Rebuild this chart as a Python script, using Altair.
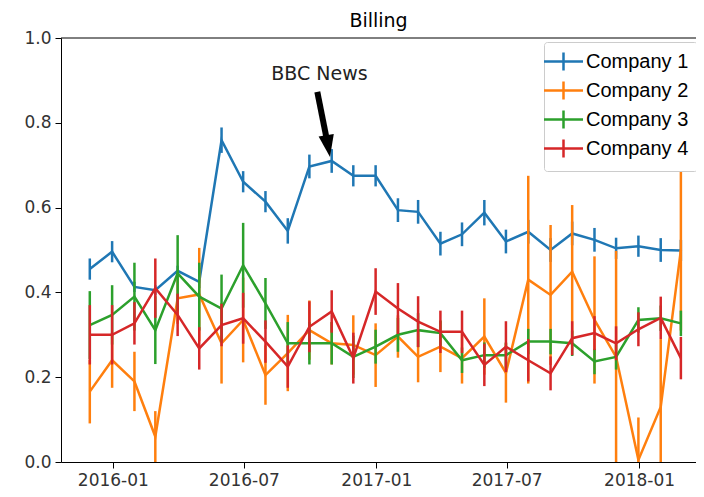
import altair as alt
import pandas as pd

dates = ["2015-11-30", "2015-12-31", "2016-01-31", "2016-02-29", "2016-03-31", "2016-04-30",
         "2016-05-31", "2016-06-30", "2016-07-31", "2016-08-31", "2016-09-30", "2016-10-31",
         "2016-11-30", "2016-12-31", "2017-01-31", "2017-02-28", "2017-03-31", "2017-04-30",
         "2017-05-31", "2017-06-30", "2017-07-31", "2017-08-31", "2017-09-30", "2017-10-31",
         "2017-11-30", "2017-12-31", "2018-01-31", "2018-02-28"]
companies = ["Company 1", "Company 2", "Company 3", "Company 4"]
colors = ["#1f77b4", "#ff7f0e", "#2ca02c", "#d62728"]

c1 = [0.455, 0.496, 0.413, 0.405, 0.451, 0.425, 0.759, 0.661, 0.614, 0.545, 0.697, 0.71,
      0.675, 0.675, 0.594, 0.59, 0.515, 0.537, 0.588, 0.52, 0.543, 0.5, 0.539, 0.524,
      0.504, 0.509, 0.5, 0.499]
c1_err = [0.025, 0.025, 0.012, 0.012, 0.012, 0.015, 0.03, 0.025, 0.025, 0.03, 0.028, 0.028,
          0.025, 0.025, 0.028, 0.028, 0.028, 0.028, 0.03, 0.028, 0.028, 0.028, 0.028, 0.028,
          0.025, 0.025, 0.028, 0.025]

c2 = [0.166, 0.24, 0.19, 0.06, 0.386, 0.395, 0.28, 0.335, 0.205, 0.257, 0.311, 0.28,
      0.276, 0.252, 0.296, 0.248, 0.272, 0.245, 0.296, 0.21, 0.43, 0.394, 0.449, 0.335,
      0.248, 0.005, 0.13, 0.5]
c2_err = [0.075, 0.065, 0.07, 0.06, 0.06, 0.11, 0.095, 0.1, 0.07, 0.09, 0.07, 0.05,
          0.07, 0.075, 0.05, 0.06, 0.06, 0.06, 0.09, 0.07, 0.245, 0.165, 0.157, 0.15,
          0.25, 0.1, 0.16, 0.19]

c3 = [0.323, 0.347, 0.39, 0.311, 0.445, 0.39, 0.362, 0.464, 0.374, 0.28, 0.28, 0.28,
      0.248, 0.272, 0.3, 0.311, 0.304, 0.24, 0.252, 0.252, 0.284, 0.284, 0.28, 0.237,
      0.248, 0.335, 0.339, 0.327]
c3_err = [0.08, 0.07, 0.08, 0.08, 0.09, 0.08, 0.08, 0.1, 0.06, 0.05, 0.05, 0.05,
          0.05, 0.04, 0.04, 0.04, 0.03, 0.03, 0.03, 0.03, 0.03, 0.03, 0.03, 0.03,
          0.03, 0.03, 0.03, 0.03]

c4 = [0.3, 0.3, 0.327, 0.41, 0.347, 0.268, 0.323, 0.339, 0.284, 0.225, 0.319, 0.355,
      0.245, 0.402, 0.362, 0.331, 0.307, 0.307, 0.229, 0.272, 0.24, 0.209, 0.292, 0.304,
      0.28, 0.313, 0.34, 0.245]
c4_err = [0.07, 0.07, 0.05, 0.07, 0.05, 0.05, 0.05, 0.06, 0.05, 0.05, 0.06, 0.05,
          0.06, 0.055, 0.06, 0.06, 0.05, 0.05, 0.05, 0.06, 0.05, 0.04, 0.04, 0.04,
          0.04, 0.04, 0.05, 0.05]

ann_label = ["BBC News"]
ann_text_date = ["2016-10-14"]
ann_text_value = [0.915]
arrow_start_date = ["2016-10-11"]
arrow_start_value = [0.873]
arrow_end_date = ["2016-10-24"]
arrow_end_value = [0.762]
arrow_head_date = ["2016-10-26"]
arrow_head_value = [0.745]

rows = []
for name, vals, errs in zip(companies, [c1, c2, c3, c4], [c1_err, c2_err, c3_err, c4_err]):
    for d, v, e in zip(dates, vals, errs):
        rows.append({"date": d + "T00:00:00", "company": name, "value": v,
                     "low": v - e, "high": v + e})
df = pd.DataFrame(rows)

text_df = pd.DataFrame({"date": [d + "T00:00:00" for d in ann_text_date],
                        "value": ann_text_value, "label": ann_label})
shaft_df = pd.DataFrame({"date": [d + "T00:00:00" for d in arrow_start_date],
                         "value": arrow_start_value,
                         "date2": [d + "T00:00:00" for d in arrow_end_date],
                         "value2": arrow_end_value})
head_df = pd.DataFrame({"date": [d + "T00:00:00" for d in arrow_head_date],
                        "value": arrow_head_value})

PLOT_W = 635
PLOT_H = 424

xscale = alt.Scale(domain=[alt.DateTime(year=2015, month=10, date=21),
                           alt.DateTime(year=2018, month=3, date=21)])
yscale = alt.Scale(domain=[0, 1])

xaxis = alt.Axis(format="%Y-%m", title=None, grid=False,
                 values=[alt.DateTime(year=2016, month=1, date=1),
                         alt.DateTime(year=2016, month=7, date=1),
                         alt.DateTime(year=2017, month=1, date=1),
                         alt.DateTime(year=2017, month=7, date=1),
                         alt.DateTime(year=2018, month=1, date=1)])
yaxis = alt.Axis(format=".1f", title=None, grid=False, values=[0, 0.2, 0.4, 0.6, 0.8, 1.0])

x = alt.X("date:T", scale=xscale, axis=xaxis, title=None)
y = alt.Y("value:Q", scale=yscale, axis=yaxis, title=None)

legend = alt.Legend(
    title=None, orient="none", legendX=483, legendY=4,
    symbolType="M-1.95,0H1.95M0,-0.9V0.9", symbolSize=400, symbolStrokeWidth=2.5,
    labelFont="Liberation Sans", labelFontSize=20, labelColor="black", labelOffset=11,
    padding=8, rowPadding=0, strokeColor="#cccccc", fillColor="white",
    cornerRadius=3,
)
color = alt.Color("company:N", scale=alt.Scale(domain=companies, range=colors), legend=legend)

layers = []
for name in companies:
    base = alt.Chart(df).transform_filter(alt.datum.company == name)
    bars = base.mark_rule(strokeWidth=2.5, clip=True).encode(
        x=x, y=alt.Y("low:Q", scale=yscale, axis=yaxis, title=None), y2="high:Q", color=color)
    line = base.mark_line(strokeWidth=2.5, clip=True).encode(x=x, y=y, color=color)
    layers += [bars, line]

text = alt.Chart(text_df).mark_text(font="DejaVu Sans", fontSize=19, color="#222222",
                                    align="center", baseline="middle").encode(
    x=x, y=y, text="label:N")
shaft = alt.Chart(shaft_df).mark_rule(strokeWidth=6, color="black").encode(
    x=x, y=y, x2="date2:T", y2="value2:Q")
head = alt.Chart(head_df).mark_point(shape="M-0.7,-1L0.7,-1L0,1Z", size=484, filled=True,
                                     color="black", opacity=1, angle=350).encode(x=x, y=y)
top_spine = alt.Chart(head_df).mark_rule(color="black", strokeWidth=1).encode(
    x=alt.value(0), x2=alt.value(PLOT_W), y=alt.value(0))

chart = alt.layer(*layers, text, shaft, head, top_spine).properties(
    width=PLOT_W, height=PLOT_H,
    title=alt.TitleParams("Billing", font="DejaVu Sans", fontSize=19, fontWeight="normal",
                          color="black", anchor="middle", offset=4, dy=6),
    padding={"left": 53, "top": 30, "right": 0, "bottom": 27},
    autosize=alt.AutoSizeParams(type="none"),
).configure_view(strokeWidth=0).configure_axis(
    labelFont="DejaVu Sans", labelFontSize=17, labelColor="#333333",
    domainColor="black", tickColor="black", tickSize=6, labelPadding=4,
)

chart.save("out.html", embed_options={"renderer": "svg", "actions": False})
